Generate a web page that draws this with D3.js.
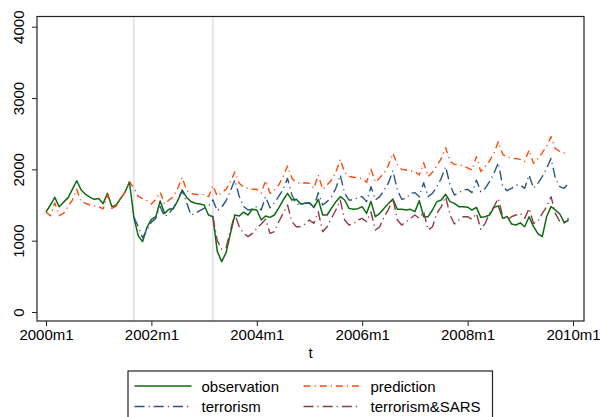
<!DOCTYPE html>
<html>
<head>
<meta charset="utf-8">
<script src="https://cdn.jsdelivr.net/npm/d3@7"></script>
<style>
  body { margin: 0; background: #fff; }
  svg { display: block; }
  text { font-family: "Liberation Sans", Arial, Helvetica, sans-serif; fill: #000; }
</style>
</head>
<body>
<svg id="chart" width="600" height="417"></svg>
<script>
// Monthly visitor series, 2000m1 .. 2009m12 (month index 0..119)
const firstYear = 2000;

const observation = [
  1400,1500,1607,1476,1540,1600,1720,1840,1710,1650,1610,1580,
  1590,1520,1664,1476,1500,1593,1680,1827,1330,1070,987,1190,
  1300,1336,1556,1383,1440,1450,1560,1710,1610,1550,1524,1514,
  1500,1360,1336,850,706,830,1103,1360,1346,1400,1360,1440,
  1430,1290,1346,1327,1360,1460,1570,1664,1570,1580,1514,1523,
  1533,1467,1580,1360,1360,1453,1547,1617,1570,1453,1440,1449,
  1477,1383,1551,1336,1383,1453,1523,1584,1440,1440,1430,1440,
  1407,1560,1336,1336,1430,1547,1570,1650,1547,1523,1477,1477,
  1470,1430,1467,1327,1336,1360,1467,1486,1313,1340,1234,1220,
  1250,1196,1336,1200,1100,1056,1336,1477,1430,1374,1252,1290
];

const prediction = [
  1400,1350,1530,1350,1383,1477,1570,1720,1547,1523,1500,1486,
  1477,1445,1640,1453,1486,1580,1687,1827,1740,1620,1590,1560,
  1514,1580,1680,1514,1570,1617,1734,1888,1710,1664,1650,1640,
  1650,1617,1770,1626,1673,1720,1827,1963,1804,1748,1734,1720,
  1720,1664,1841,1664,1710,1780,1897,2047,1874,1813,1804,1813,
  1804,1734,1920,1720,1780,1850,1960,2140,1960,1900,1890,1880,
  1870,1820,2000,1820,1880,1950,2060,2224,2070,2000,1990,1980,
  1970,1920,2093,1900,1960,2050,2150,2304,2110,2070,2060,2050,
  2020,1990,2178,1970,2040,2120,2230,2388,2210,2170,2160,2150,
  2140,2110,2271,2084,2150,2230,2330,2458,2290,2250,2230,2215
];

// Counterfactual with the September 2001 shock (from month 20)
const terrorismStart = 20;
const terrorism = [
  1330,1200,1040,1150,
  1260,1313,1480,1336,1383,1460,1570,1701,1540,1360,1383,1420,
  1453,1486,1570,1420,1470,1560,1700,1850,1620,1480,1430,1440,
  1480,1430,1617,1460,1530,1620,1720,1874,1640,1520,1500,1530,
  1523,1477,1673,1500,1547,1617,1734,1920,1664,1570,1570,1607,
  1617,1547,1757,1570,1617,1710,1813,1981,1710,1580,1593,1664,
  1673,1617,1813,1617,1664,1757,1874,2037,1780,1640,1673,1710,
  1720,1673,1850,1687,1734,1827,1944,2093,1757,1701,1734,1780,
  1780,1734,1920,1734,1804,1897,2014,2154,1874,1757,1734,1804
];

// Counterfactual with both shocks (from March 2003, month 38)
const sarsStart = 38;
const terrorismSARS = [
  1336,1000,880,900,1150,1370,1196,1103,1056,1103,
  1173,1234,1300,1103,1126,1266,1383,1500,1266,1196,1196,1234,
  1290,1243,1407,1126,1196,1313,1430,1570,1290,1220,1234,1290,
  1313,1266,1402,1150,1196,1336,1440,1589,1290,1220,1266,1313,
  1360,1313,1407,1150,1196,1383,1477,1617,1360,1234,1290,1336,
  1336,1300,1383,1159,1243,1383,1477,1594,1336,1290,1336,1360,
  1383,1313,1453,1243,1266,1383,1477,1617,1383,1266,1252,1313
];

const yTicks = [0, 1000, 2000, 3000, 4000];
const xTicks = [0, 24, 48, 72, 96, 120];
const eventMonths = [20, 38];
const seriesNames = ["observation", "prediction", "terrorism", "terrorism&SARS"];
const seriesColors = ["#0f6a12", "#ff4a0a", "#2a5682", "#8e3a42"];
const seriesDashes = [null, "7,4,1.2,4", "10,4,1.2,4", "10,4,1.2,4"];

const toPoints = (vals, start) => vals.map((v, i) => ({ t: start + i, v }));
const series = [
  toPoints(observation, 0),
  toPoints(prediction, 0),
  toPoints(terrorism, terrorismStart),
  toPoints(terrorismSARS, sarsStart)
];

const svg = d3.select("#chart");
const frame = { left: 37, right: 584, top: 16.5, bottom: 321 };

const x = d3.scaleLinear().domain([0, 120]).range([46, 573]);
const y = d3.scaleLinear().domain([0, 4000]).range([312, 26.7]);

svg.append("rect").attr("width", 600).attr("height", 417).attr("fill", "#fff");

// event markers
svg.append("g").selectAll("line").data(eventMonths).join("line")
  .attr("x1", d => x(d)).attr("x2", d => x(d))
  .attr("y1", frame.top).attr("y2", frame.bottom)
  .attr("stroke", "#d6d6d6").attr("stroke-width", 1.2);

// series lines
const line = d3.line().x(d => x(d.t)).y(d => y(d.v));
svg.append("g").selectAll("path").data(series).join("path")
  .attr("d", d => line(d))
  .attr("fill", "none")
  .attr("stroke", (d, i) => seriesColors[i])
  .attr("stroke-width", (d, i) => i === 0 ? 1.5 : 1.4)
  .attr("stroke-dasharray", (d, i) => seriesDashes[i])
  .attr("stroke-linejoin", "round");

// plot frame
svg.append("rect")
  .attr("x", frame.left).attr("y", frame.top)
  .attr("width", frame.right - frame.left).attr("height", frame.bottom - frame.top)
  .attr("fill", "none").attr("stroke", "#222").attr("stroke-width", 1.2);

// x axis
const xAxis = svg.append("g")
  .attr("transform", `translate(0,${frame.bottom})`)
  .call(d3.axisBottom(x).tickValues(xTicks).tickSize(5).tickPadding(3)
    .tickFormat(d => `${firstYear + d / 12}m1`));
xAxis.select(".domain").remove();
xAxis.selectAll("line").attr("stroke", "#222");
xAxis.selectAll("text").attr("font-size", 15).attr("font-family", null);

// y axis with rotated labels
const yAxis = svg.append("g")
  .attr("transform", `translate(${frame.left},0)`)
  .call(d3.axisLeft(y).tickValues(yTicks).tickSize(5).tickFormat(d3.format("d")));
yAxis.select(".domain").remove();
yAxis.selectAll("line").attr("stroke", "#222");
yAxis.selectAll("text")
  .attr("font-size", 15).attr("font-family", null)
  .attr("transform", "rotate(-90)")
  .attr("x", 0).attr("y", -13).attr("dy", 0)
  .attr("text-anchor", "middle");

// axis title
svg.append("text").attr("x", (frame.left + frame.right) / 2).attr("y", 358)
  .attr("text-anchor", "middle").attr("font-size", 15).text("t");

// legend
const legend = svg.append("g");
legend.append("rect").attr("x", 128).attr("y", 371).attr("width", 364.5).attr("height", 60)
  .attr("fill", "#fff").attr("stroke", "#222").attr("stroke-width", 1.2);
const legendPos = [
  { lx: 134.5, ty: 386 }, { lx: 303.5, ty: 386 },
  { lx: 134.5, ty: 406.5 }, { lx: 303.5, ty: 406.5 }
];
seriesNames.forEach((name, i) => {
  const p = legendPos[i];
  legend.append("line")
    .attr("x1", p.lx).attr("x2", p.lx + 57).attr("y1", p.ty).attr("y2", p.ty)
    .attr("stroke", seriesColors[i]).attr("stroke-width", i === 0 ? 1.5 : 1.4)
    .attr("stroke-dasharray", seriesDashes[i]);
  legend.append("text").attr("x", p.lx + 67).attr("y", p.ty + 5.5)
    .attr("font-size", 15).text(name);
});
</script>
</body>
</html>
